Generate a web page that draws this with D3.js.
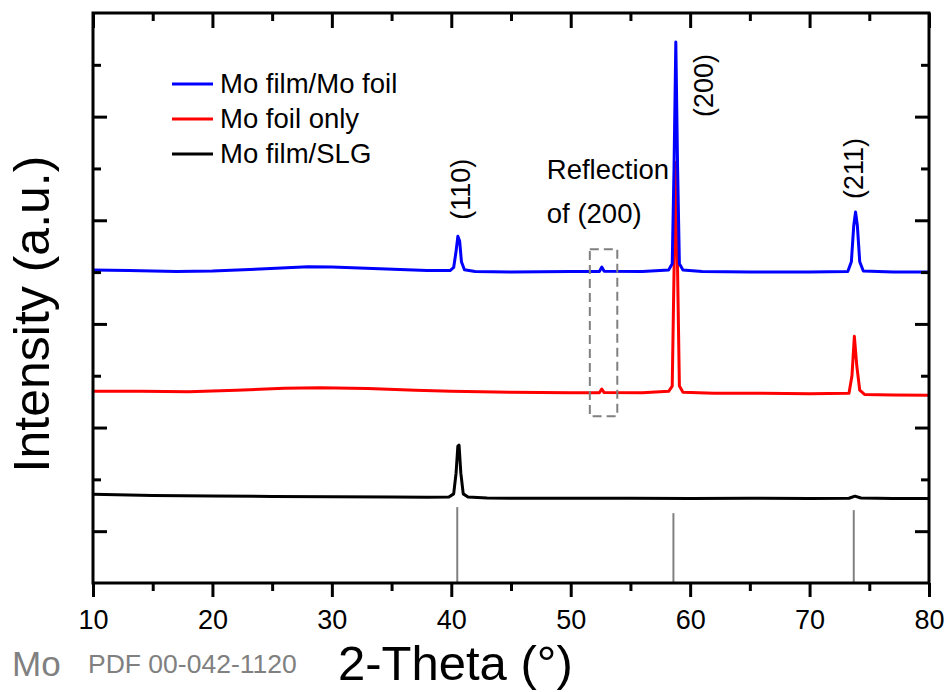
<!DOCTYPE html>
<html>
<head>
<meta charset="utf-8">
<script src="https://d3js.org/d3.v7.min.js"></script>
<style>
  body { margin: 0; background: #fff; }
  text { font-family: "Liberation Sans", Arial, sans-serif; }
</style>
</head>
<body>
<div id="chart"></div>
<script>
// traces: [2-theta, intensity (offset, a.u.)]
var filmOnFoil = [
  [10, 2519], [13, 2515], [17, 2505], [20, 2510], [24, 2530], [28, 2552], [30, 2550],
  [34, 2532], [38, 2515], [39.9, 2515], [40.2, 2545], [40.4, 2700], [40.55, 2845],
  [40.7, 2800], [40.85, 2600], [41.1, 2522], [42, 2505], [45, 2500], [50, 2505],
  [52.4, 2505], [52.6, 2548], [52.8, 2508], [56, 2505], [58.2, 2520], [58.5, 2580],
  [58.65, 3500], [58.8, 4720], [58.95, 3500], [59.1, 2580], [59.4, 2520], [61, 2505],
  [65, 2500], [70, 2500], [73.2, 2505], [73.5, 2600], [73.7, 2950], [73.85, 3080],
  [74.0, 2950], [74.2, 2600], [74.5, 2510], [77, 2500], [80, 2500]
];
var foilOnly = [
  [10, 1351], [14, 1350], [18, 1345], [22, 1360], [26, 1380], [29, 1385], [33, 1377],
  [37, 1360], [40, 1350], [45, 1340], [50, 1335], [52.4, 1335], [52.6, 1372],
  [52.8, 1337], [56, 1335], [58.2, 1350], [58.5, 1400], [58.65, 2500], [58.8, 3560],
  [58.95, 2500], [59.1, 1400], [59.4, 1340], [62, 1330], [66, 1330], [70, 1325],
  [73.3, 1330], [73.55, 1500], [73.75, 1880], [73.95, 1600], [74.2, 1360],
  [74.6, 1320], [77, 1315], [80, 1312]
];
var filmOnSLG = [
  [10, 357], [12, 352], [15, 345], [20, 340], [25, 335], [30, 333], [35, 330],
  [38, 328], [39.8, 330], [40.2, 360], [40.4, 560], [40.55, 820], [40.65, 830],
  [40.8, 560], [41.0, 360], [41.4, 330], [43, 320], [45, 318], [50, 318], [55, 317],
  [60, 316], [65, 318], [70, 316], [73.3, 318], [73.8, 338], [74.3, 320], [77, 316],
  [80, 316]
];
var seriesNames = ["Mo film/Mo foil", "Mo foil only", "Mo film/SLG"];
var seriesColors = ["#0000ff", "#ff0000", "#000000"];

// Mo reference pattern (PDF 00-042-1120)
var refPos = [40.5, 58.6, 73.7];
var refHeight = [232, 174, 203];

var peakLabels = ["(110)", "(200)", "(211)"];
var peakLabelX = [41.6, 61.9, 74.5];
var peakLabelY = [3300, 4300, 3500];

var xMajor = [10, 20, 30, 40, 50, 60, 70, 80];
var xMinor = [15, 25, 35, 45, 55, 65, 75];
var yMajor = [0, 1000, 2000, 3000, 4000];
var yMinor = [500, 1500, 2500, 3500, 4500];

var margin = { top: 13, right: 22, bottom: 109, left: 93 };
var width = 951 - margin.left - margin.right;
var height = 692 - margin.top - margin.bottom;

var svg = d3.select("#chart")
  .append("svg")
  .attr("width", 951)
  .attr("height", 692)
  .append("g")
  .attr("transform", "translate(" + margin.left + "," + margin.top + ")");

var x = d3.scaleLinear().domain([10, 80]).range([0, width]);
var y = d3.scaleLinear().domain([-500, 5000]).range([height, 0]);

// reference sticks
svg.selectAll(".ref")
  .data(refPos)
  .enter()
  .append("line")
  .attr("x1", function (d) { return x(d); })
  .attr("x2", function (d) { return x(d); })
  .attr("y1", y(-500))
  .attr("y2", function (d, i) { return y(refHeight[i]); })
  .attr("stroke", "#808080")
  .attr("stroke-width", 2);

// the traces
var line = d3.line()
  .x(function (d) { return x(d[0]); })
  .y(function (d) { return y(d[1]); });

[filmOnSLG, foilOnly, filmOnFoil].forEach(function (data, i) {
  svg.append("path")
    .datum(data)
    .attr("d", line)
    .attr("fill", "none")
    .attr("stroke", seriesColors[2 - i])
    .attr("stroke-width", 3)
    .attr("stroke-linejoin", "round");
});

// dashed box round the reflection
svg.append("rect")
  .attr("x", x(51.6))
  .attr("y", y(2720))
  .attr("width", x(53.9) - x(51.6))
  .attr("height", y(1110) - y(2720))
  .attr("fill", "none")
  .attr("stroke", "#808080")
  .attr("stroke-width", 2)
  .attr("stroke-dasharray", "9,5");

// axes: bottom ticks out, the others point inward
function styleAxis(g) {
  g.select(".domain").remove();
  g.selectAll("line").attr("stroke", "#000").attr("stroke-width", 3);
}

svg.append("g")
  .attr("transform", "translate(0," + height + ")")
  .call(d3.axisBottom(x).tickValues(xMajor).tickSize(14).tickPadding(13))
  .call(styleAxis)
  .selectAll("text")
  .attr("font-size", 27)
  .attr("fill", "#000");
svg.append("g")
  .attr("transform", "translate(0," + height + ")")
  .call(d3.axisBottom(x).tickValues(xMinor).tickSize(8).tickFormat(""))
  .call(styleAxis);
svg.append("g")
  .call(d3.axisTop(x).tickValues(xMajor).tickSize(-15).tickFormat(""))
  .call(styleAxis);
svg.append("g")
  .call(d3.axisTop(x).tickValues(xMinor).tickSize(-8).tickFormat(""))
  .call(styleAxis);
svg.append("g")
  .call(d3.axisLeft(y).tickValues(yMajor).tickSize(-14).tickFormat(""))
  .call(styleAxis);
svg.append("g")
  .call(d3.axisLeft(y).tickValues(yMinor).tickSize(-8).tickFormat(""))
  .call(styleAxis);
svg.append("g")
  .attr("transform", "translate(" + width + ",0)")
  .call(d3.axisRight(y).tickValues(yMajor).tickSize(-14).tickFormat(""))
  .call(styleAxis);
svg.append("g")
  .attr("transform", "translate(" + width + ",0)")
  .call(d3.axisRight(y).tickValues(yMinor).tickSize(-8).tickFormat(""))
  .call(styleAxis);

// frame
svg.append("rect")
  .attr("width", width)
  .attr("height", height)
  .attr("fill", "none")
  .attr("stroke", "#000")
  .attr("stroke-width", 3);

// peak labels (rotated)
svg.selectAll(".peak")
  .data(peakLabels)
  .enter()
  .append("text")
  .attr("transform", function (d, i) {
    return "translate(" + x(peakLabelX[i]) + "," + y(peakLabelY[i]) + ") rotate(-90)";
  })
  .attr("text-anchor", "middle")
  .attr("font-size", 27)
  .text(function (d) { return d; });

svg.append("text")
  .attr("x", x(48))
  .attr("y", 166)
  .attr("font-size", 27.5)
  .text("Reflection");
svg.append("text")
  .attr("x", x(48))
  .attr("y", 210)
  .attr("font-size", 27.5)
  .text("of (200)");

// legend
var legend = svg.selectAll(".legend")
  .data(seriesNames)
  .enter()
  .append("g")
  .attr("transform", function (d, i) { return "translate(79," + (71 + i * 35) + ")"; });
legend.append("line")
  .attr("x1", 0)
  .attr("x2", 41)
  .attr("stroke", function (d, i) { return seriesColors[i]; })
  .attr("stroke-width", 3);
legend.append("text")
  .attr("x", 48)
  .attr("y", 9)
  .attr("font-size", 27.5)
  .text(function (d) { return d; });

// axis titles
svg.append("text")
  .attr("x", 245)
  .attr("y", 667)
  .attr("font-size", 49)
  .text("2-Theta (\u00b0)");
svg.append("text")
  .attr("transform", "translate(-44," + (height / 2 + 16) + ") rotate(-90)")
  .attr("text-anchor", "middle")
  .attr("font-size", 50)
  .text("Intensity (a.u.)");

svg.append("text")
  .attr("x", -81)
  .attr("y", 663)
  .attr("font-size", 35)
  .attr("fill", "#808080")
  .text("Mo");
svg.append("text")
  .attr("x", -5)
  .attr("y", 660)
  .attr("font-size", 26.5)
  .attr("fill", "#808080")
  .text("PDF 00-042-1120");
</script>
</body>
</html>
